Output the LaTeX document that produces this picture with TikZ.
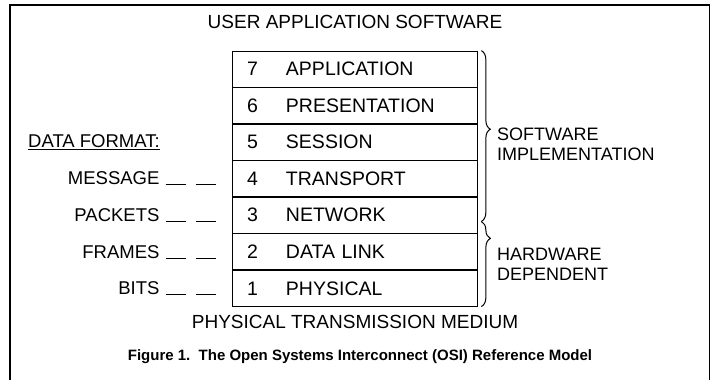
\documentclass[tikz,border=0pt]{standalone}
\usepackage{fontspec}
\setmainfont{Liberation Sans}
\usepackage{tikz}
\usetikzlibrary{positioning, decorations.pathreplacing}
\tikzstyle{layer} = [draw, line width=0.7pt, rectangle, minimum height=35.86pt,
    inner xsep=15pt, inner ysep=0pt, text width=215pt, align=left,
    text height=13.5pt, text depth=0pt, font=\fontsize{19.5}{22}\selectfont]
\tikzstyle{fmt} = [inner sep=0pt, font=\fontsize{18.5}{20}\selectfont]
\tikzstyle{title} = [inner sep=0pt, font=\fontsize{19}{22}\selectfont]
\tikzstyle{grplabel} = [inner sep=0pt, anchor=west, align=left,
    font=\fontsize{18}{20}\selectfont]
\tikzstyle{fmtdash} = [line width=1pt, dash pattern=on 20pt off 10pt]
\tikzstyle{grp} = [decorate, line width=1pt,
    decoration={brace, amplitude=9pt}]
\newcommand{\lnum}[1]{\makebox[39pt][l]{#1}}

\begin{document}
\begin{tikzpicture}[x=1pt, y=-1pt]
    \useasboundingbox (0,0) rectangle (711,380);
    % frame, open at the bottom
    \draw[line width=1.2pt] (10,380) -- (10,5) -- (709.5,5) -- (709.5,380);

    \node[title] (top) at (355,22) {USER APPLICATION SOFTWARE};

    % the seven layers
    \node[layer] (l7) at (354.5,68.93) {\lnum{7}APPLICATION};
    \node[layer, below=0pt of l7] (l6) {\lnum{6}PRESENTATION};
    \node[layer, below=0pt of l6] (l5) {\lnum{5}SESSION};
    \node[layer, below=0pt of l5] (l4) {\lnum{4}TRANSPORT};
    \node[layer, below=0pt of l4] (l3) {\lnum{3}NETWORK};
    \node[layer, below=0pt of l3] (l2) {\lnum{2}DATA LINK};
    \node[layer, below=0pt of l2] (l1) {\lnum{1}PHYSICAL};

    \node[title] (bottom) at (355,322) {PHYSICAL TRANSMISSION MEDIUM};

    % data formats
    \node[fmt, anchor=west] (fmthead) at (28,142) {\underline{DATA FORMAT:}};
    \node[fmt, left=72pt of l4.west] (msg) {MESSAGE};
    \node[fmt, left=72pt of l3.west] (pkt) {PACKETS};
    \node[fmt, left=72pt of l2.west] (frm) {FRAMES};
    \node[fmt, left=72pt of l1.west] (bit) {BITS};
    \draw[fmtdash] ([xshift=6pt]msg.base east) -- ([xshift=-13pt]l4.west |- msg.base);
    \draw[fmtdash] ([xshift=6pt]pkt.base east) -- ([xshift=-13pt]l3.west |- pkt.base);
    \draw[fmtdash] ([xshift=6pt]frm.base east) -- ([xshift=-13pt]l2.west |- frm.base);
    \draw[fmtdash] ([xshift=6pt]bit.base east) -- ([xshift=-13pt]l1.west |- bit.base);

    % braces
    \coordinate (split) at ([xshift=4pt, yshift=12pt]l2.north east);
    \draw[grp, decoration={aspect=0.46}] ([xshift=4pt]l7.north east) -- (split);
    \draw[grp, decoration={aspect=0.2}] (split) -- ([xshift=4pt]l1.south east);
    \node[grplabel] (sw) at (497,144) {SOFTWARE\\IMPLEMENTATION};
    \node[grplabel] (hw) at (497,264) {HARDWARE\\DEPENDENT};

    \node[inner sep=0pt, font=\fontsize{15}{18}\selectfont\bfseries] (cap) at (360,357)
        {Figure 1.\ \ The Open Systems Interconnect (OSI) Reference Model};
\end{tikzpicture}
\end{document}
